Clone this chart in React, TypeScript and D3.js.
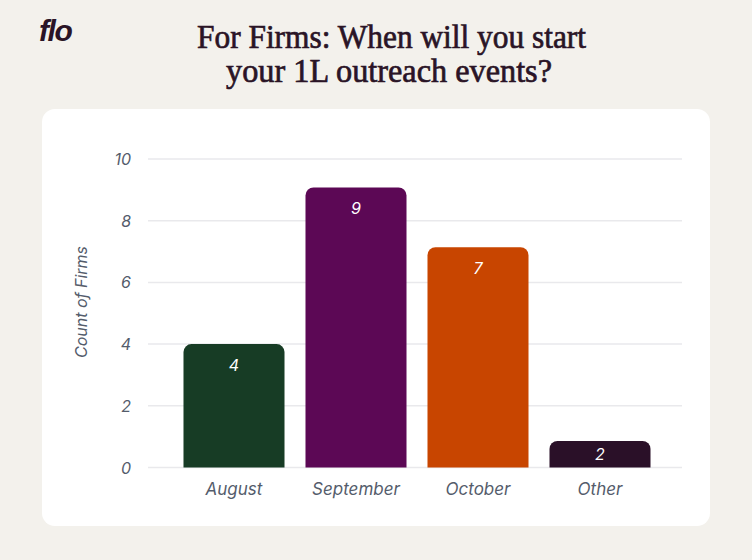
import React from 'react';
import * as d3 from 'd3';

const categories = ['August', 'September', 'October', 'Other'];
// bar heights as drawn in the picture
const barValues = [4, 9.08, 7.14, 0.86];
// labels printed on the bars
const barLabels = ['4', '9', '7', '2'];
const barColors = ['#173c25', '#5c0855', '#c84500', '#2a1028'];
const yTicks = [0, 2, 4, 6, 8, 10];

const W = 752;
const H = 560;
const ink = '#2a1426';
const grayText = '#545c6b';

function topRoundedRect(x: number, y: number, w: number, h: number, r: number) {
  const rr = Math.min(r, h, w / 2);
  const p = d3.path();
  p.moveTo(x, y + h);
  p.lineTo(x, y + rr);
  p.arcTo(x, y, x + rr, y, rr);
  p.lineTo(x + w - rr, y);
  p.arcTo(x + w, y, x + w, y + rr, rr);
  p.lineTo(x + w, y + h);
  p.closePath();
  return p.toString();
}

export default function App() {
  const y = d3.scaleLinear().domain([0, 10]).range([467.5, 159]);
  const x = d3.scaleBand<string>()
    .domain(categories)
    .range([173, 661])
    .paddingInner(0.172)
    .paddingOuter(0.086);

  return (
    <svg width={W} height={H} style={{ position: 'absolute', left: 0, top: 0, display: 'block' }}>
      <rect width={W} height={H} fill="#f3f1ec" />
      {/* logo */}
      <text x={39} y={41} fontFamily="'Liberation Sans', sans-serif" fontWeight="bold" fontStyle="italic"
        fontSize={30} fill={ink} letterSpacing={-1.4}>flo</text>
      {/* title */}
      <g fontFamily="'Liberation Serif', serif" fontSize={34} fill={ink} stroke={ink} strokeWidth={0.7}
        textAnchor="middle">
        <text x={391.5} y={48} textLength={389} lengthAdjust="spacingAndGlyphs">For Firms: When will you start</text>
        <text x={389} y={82} textLength={326} lengthAdjust="spacingAndGlyphs">your 1L outreach events?</text>
      </g>
      {/* card */}
      <rect x={42} y={109} width={668} height={417} rx={13} fill="#ffffff" />
      {/* grid + y ticks */}
      {yTicks.map(t => (
        <g key={t}>
          <line x1={148} x2={682} y1={y(t)} y2={y(t)} stroke="#e9e9ec" strokeWidth={1.5} />
          <text x={131} y={y(t) + 6} textAnchor="end" fontFamily="Inter, sans-serif" fontStyle="italic"
            fontSize={16} fill={grayText}>{t}</text>
        </g>
      ))}
      <text transform={`translate(87,302) rotate(-90)`} textAnchor="middle" fontFamily="Inter, sans-serif"
        fontStyle="italic" fontSize={16} fill={grayText}>Count of Firms</text>
      {/* bars */}
      {categories.map((c, i) => {
        const bx = x(c)!;
        const by = y(barValues[i]);
        const bh = y(0) - by;
        const ly = bh > 50 ? by + 27 : by + bh / 2 + 6;
        return (
          <g key={c}>
            <path d={topRoundedRect(bx, by, x.bandwidth(), bh, 8)} fill={barColors[i]} />
            <text x={bx + x.bandwidth() / 2} y={ly} textAnchor="middle" fontFamily="Inter, sans-serif"
              fontStyle="italic" fontSize={16} fill="#ffffff">{barLabels[i]}</text>
            <text x={bx + x.bandwidth() / 2} y={495} textAnchor="middle" fontFamily="Inter, sans-serif"
              fontStyle="italic" fontSize={17} fill={grayText}>{c}</text>
          </g>
        );
      })}
    </svg>
  );
}
